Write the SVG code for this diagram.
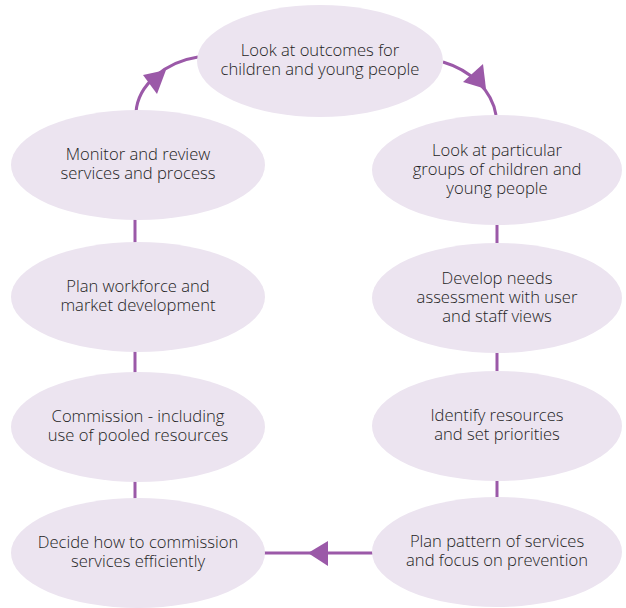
<svg xmlns="http://www.w3.org/2000/svg" width="626" height="608" viewBox="0 0 626 608">
  <style>
    .node ellipse { fill: #ece4f0; }
    .node text { font-family: "Open Sans", "Noto Sans", sans-serif; font-size: 16.6px; font-weight: 300; fill: #1e1e1e; text-anchor: middle; }
    .link { stroke: #9b59a8; stroke-width: 3; fill: none; }
    .head { fill: #9b59a8; }
  </style>
  <rect width="626" height="608" fill="#ffffff"/>

  <g id="connectors">
    <!-- curved arrows around the top -->
    <path class="link" d="M136,112 C138,85 165,62 198,57"/>
    <polygon class="head" points="166,70 143,75 157,94"/>
    <path class="link" d="M443,62 C470,70 492,90 496,115"/>
    <polygon class="head" points="486,89 463,82 483,64"/>
    <!-- left column -->
    <line class="link" x1="135" y1="218" x2="135" y2="244"/>
    <line class="link" x1="135" y1="350" x2="135" y2="374"/>
    <line class="link" x1="135" y1="480" x2="135" y2="500"/>
    <!-- right column -->
    <line class="link" x1="497" y1="223" x2="497" y2="245"/>
    <line class="link" x1="497" y1="351" x2="497" y2="373"/>
    <line class="link" x1="497" y1="479" x2="497" y2="499"/>
    <!-- bottom arrow -->
    <line class="link" x1="262" y1="553" x2="373" y2="553"/>
    <polygon class="head" points="308,553 328,541 328,566"/>
  </g>

  <g id="n-outcomes" class="node">
    <ellipse cx="320" cy="61" rx="123" ry="56"/>
    <text x="320" y="56">Look at outcomes for</text>
    <text x="320" y="75">children and young people</text>
  </g>
  <g id="n-groups" class="node">
    <ellipse cx="497" cy="170" rx="125" ry="55"/>
    <text x="497" y="156">Look at particular</text>
    <text x="497" y="175">groups of children and</text>
    <text x="497" y="194">young people</text>
  </g>
  <g id="n-needs" class="node">
    <ellipse cx="497" cy="298" rx="125" ry="55"/>
    <text x="497" y="284">Develop needs</text>
    <text x="497" y="303">assessment with user</text>
    <text x="497" y="322">and staff views</text>
  </g>
  <g id="n-resources" class="node">
    <ellipse cx="497" cy="426" rx="125" ry="55"/>
    <text x="497" y="421">Identify resources</text>
    <text x="497" y="440">and set priorities</text>
  </g>
  <g id="n-pattern" class="node">
    <ellipse cx="497" cy="552" rx="125" ry="55"/>
    <text x="497" y="547">Plan pattern of services</text>
    <text x="497" y="566">and focus on prevention</text>
  </g>
  <g id="n-decide" class="node">
    <ellipse cx="138" cy="553" rx="127" ry="55"/>
    <text x="138" y="548">Decide how to commission</text>
    <text x="138" y="567">services efficiently</text>
  </g>
  <g id="n-commission" class="node">
    <ellipse cx="138" cy="427" rx="127" ry="55"/>
    <text x="138" y="422">Commission - including</text>
    <text x="138" y="441">use of pooled resources</text>
  </g>
  <g id="n-workforce" class="node">
    <ellipse cx="138" cy="297" rx="127" ry="55"/>
    <text x="138" y="292">Plan workforce and</text>
    <text x="138" y="311">market development</text>
  </g>
  <g id="n-monitor" class="node">
    <ellipse cx="138" cy="165" rx="127" ry="55"/>
    <text x="138" y="160">Monitor and review</text>
    <text x="138" y="179">services and process</text>
  </g>
</svg>
